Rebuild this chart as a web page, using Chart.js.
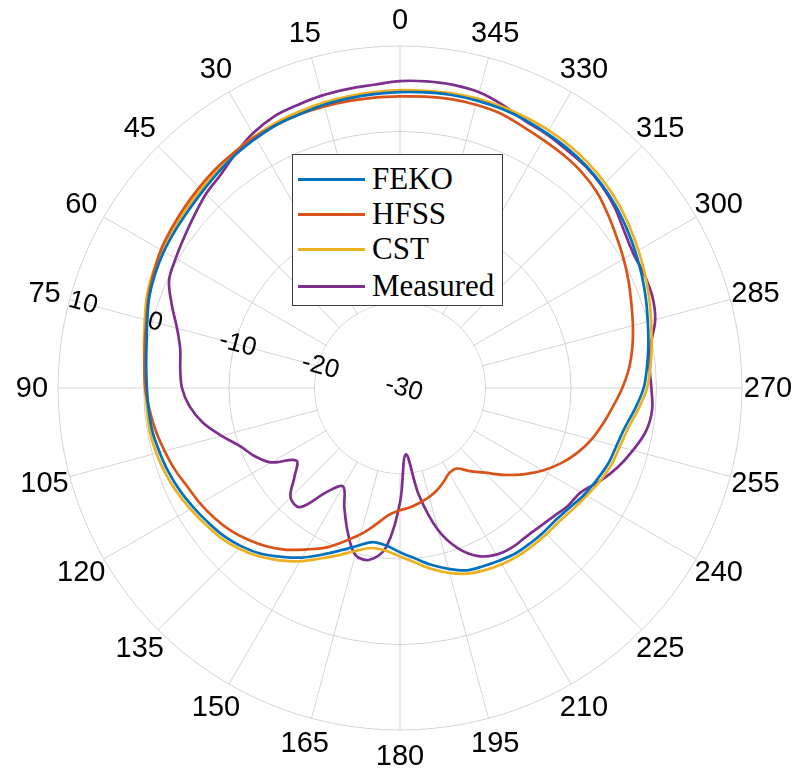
<!DOCTYPE html>
<html>
<head>
<meta charset="utf-8">
<script src="https://cdn.jsdelivr.net/npm/chart.js@4.4.1/dist/chart.umd.min.js"></script>
<style>
  body { margin: 0; background: #fff; }
  #wrap { position: relative; width: 798px; height: 774px; }
  #legend {
    position: absolute; left: 292px; top: 154px; width: 209px; height: 150px;
    border: 1px solid #3c3c3c; background: #fff;
    font-family: "Liberation Serif", "Times New Roman", serif; font-size: 31px; color: #000;
  }
  .row { position: absolute; left: 0; height: 36px; display: flex; align-items: center; white-space: nowrap; }
  .row i { display: inline-block; width: 67px; height: 3px; margin-left: 5px; margin-right: 7px; }
</style>
</head>
<body>
<div id="wrap">
  <canvas id="polar"></canvas>
  <div id="legend"></div>
</div>
<script>
// angle in degrees, counter-clockwise from top, every 5 deg
const angles = Array.from({ length: 72 }, (_, i) => i * 5);
const rTicks = [-30, -20, -10, 0, 10];

// gain in dB at angles[]
const feko = [4.6, 4.5, 4.4, 4.3, 4.1, 4.0, 3.7, 3.4, 3.0, 2.6, 2.3, 2.1,
  1.9, 1.6, 1.2, 0.6, 0.1, -0.2, -0.4, -0.5, -0.6, -0.9, -1.2, -1.6,
  -2.1, -2.6, -3.1, -3.8, -4.7, -5.9, -7.1, -8.5, -9.8, -10.9, -11.7, -11.5,
  -10.8, -10.0, -9.0, -8.1, -7.3, -7.0, -6.7, -6.4, -6.3, -6.2, -6.1, -5.7,
  -5.1, -4.6, -4.1, -3.8, -3.3, -2.4, -1.5, -1.0, -0.5, 0.0, 0.6, 1.2,
  1.8, 2.4, 3.0, 3.5, 3.9, 4.2, 4.4, 4.6, 4.75, 4.8, 4.8, 4.7];

const hfss = [4.1, 4.1, 4.1, 4.1, 4.1, 4.0, 3.9, 3.7, 3.5, 3.2, 2.9, 2.6,
  2.3, 1.8, 1.3, 0.7, 0.3, 0.0, -0.2, -0.6, -1.0, -1.5, -2.0, -2.6,
  -3.0, -3.5, -4.1, -4.9, -5.8, -6.9, -8.2, -9.4, -10.9, -12.3, -13.8, -15.1,
  -15.7, -16.0, -16.4, -16.8, -17.3, -17.9, -18.5, -18.5, -17.3, -16.0, -14.2, -12.4,
  -10.7, -9.2, -7.9, -6.8, -5.9, -5.0, -4.0, -3.1, -2.4, -1.8, -1.2, -0.5,
  0.2, 0.9, 1.7, 2.5, 3.0, 3.3, 3.5, 3.8, 4.2, 4.3, 4.3, 4.2];

const cst = [4.85, 4.75, 4.65, 4.55, 4.4, 4.25, 4.0, 3.7, 3.3, 2.9, 2.6, 2.4,
  2.2, 1.9, 1.5, 0.9, 0.4, 0.0, -0.2, -0.3, -0.3, -0.5, -0.8, -1.2,
  -1.7, -2.2, -2.7, -3.4, -4.3, -5.4, -6.6, -8.0, -9.2, -10.3, -11.0, -10.9,
  -10.3, -9.5, -8.5, -7.6, -6.9, -6.5, -6.2, -6.0, -5.9, -5.8, -5.7, -5.3,
  -4.8, -4.2, -3.7, -3.4, -2.9, -2.0, -1.1, -0.6, -0.1, 0.4, 1.0, 1.6,
  2.2, 2.8, 3.4, 3.9, 4.3, 4.6, 4.8, 4.9, 5.0, 5.05, 5.0, 4.9];

const measured = [5.9, 5.6, 5.5, 5.4, 5.2, 5.0, 4.4, 3.5, 2.6, 2.1, 1.4, 0.8,
  0.3, -0.2, -1.6, -3.0, -3.9, -4.2, -4.5, -5.3, -6.6, -8.4, -10.1, -11.2,
  -12.6, -15.2, -13.9, -11.9, -11.8, -15.2, -16.7, -14.6, -12.1, -9.8, -9.6, -11.3,
  -16.6, -22.2, -17.3, -12.8, -10.0, -8.3, -7.5, -7.2, -7.2, -7.0, -6.6, -6.0,
  -5.6, -4.2, -2.9, -1.8, -0.8, -0.4, -0.6, -0.7, -0.2, 0.9, 1.4, 1.5,
  1.5, 2.0, 2.8, 3.4, 3.8, 4.0, 4.3, 4.5, 5.2, 5.8, 6.0, 6.0];

const seriesNames = ['FEKO', 'HFSS', 'CST', 'Measured'];
const seriesColors = ['#0072BD', '#D95319', '#EDB120', '#7E2F8E'];
const seriesData = [feko, hfss, cst, measured];

// radar goes clockwise, the plot goes counter-clockwise
const n = angles.length;
const order = angles.map((_, i) => (n - i) % n);
const labels = order.map(k => angles[k]);

const FONT = '"Liberation Sans", Arial, sans-serif';

const polarExtras = {
  id: 'polarExtras',
  beforeDatasetsDraw(chart) {
    const s = chart.scales.r, ctx = chart.ctx;
    ctx.save();
    // hollow centre, grid only from -20 outward
    ctx.beginPath();
    ctx.arc(s.xCenter, s.yCenter, s.getDistanceFromCenterForValue(-20) - 0.6, 0, Math.PI * 2);
    ctx.fillStyle = '#fff';
    ctx.fill();
    // angle labels every 15 deg
    ctx.font = '29px ' + FONT;
    ctx.fillStyle = '#000';
    ctx.textAlign = 'center';
    ctx.textBaseline = 'middle';
    labels.forEach((l, i) => {
      if (i % 3 !== 0) return;
      const p = s.getPointPosition(i, s.drawingArea + 26);
      ctx.fillText(String(l), p.x, p.y + 1);
    });
    ctx.restore();
  },
  afterDatasetsDraw(chart) {
    const s = chart.scales.r, ctx = chart.ctx;
    const idx = order.indexOf(angles.indexOf(75));
    ctx.save();
    ctx.font = '26px ' + FONT;
    ctx.fillStyle = '#000';
    ctx.textAlign = 'center';
    ctx.textBaseline = 'middle';
    rTicks.forEach(v => {
      let d = s.getDistanceFromCenterForValue(v) - 3;
      if (v === rTicks[rTicks.length - 1]) d -= 11;
      if (v === rTicks[0]) d = -4;
      const p = s.getPointPosition(idx, d);
      ctx.save();
      ctx.translate(p.x, p.y);
      ctx.rotate(15 * Math.PI / 180);
      ctx.fillText(String(v), 0, 0);
      ctx.restore();
    });
    ctx.restore();
  }
};

new Chart(document.getElementById('polar'), {
  type: 'radar',
  data: {
    labels: labels,
    datasets: seriesData.map((d, j) => ({
      label: seriesNames[j],
      data: order.map(k => d[k]),
      borderColor: seriesColors[j],
      backgroundColor: seriesColors[j],
      borderWidth: 2.7,
      fill: false,
      pointRadius: 0,
      tension: 0.35
    }))
  },
  options: {
    responsive: true,
    maintainAspectRatio: false,
    animation: false,
    layout: { padding: { top: 46, bottom: 44, left: 58, right: 56 } },
    plugins: { legend: { display: false }, tooltip: { enabled: false } },
    scales: {
      r: {
        min: -30,
        max: 10,
        ticks: { display: false, stepSize: 10 },
        grid: { circular: true, color: '#d4d4d4', lineWidth: 1 },
        angleLines: { color: '#d4d4d4', lineWidth: c => (c.index % 3 === 0 ? 1 : 0) },
        pointLabels: { display: false }
      }
    }
  },
  plugins: [polarExtras]
});

// legend box
const legend = document.getElementById('legend');
const rowCenters = [24, 59, 94, 131];
seriesNames.forEach((name, j) => {
  const row = document.createElement('div');
  row.className = 'row';
  row.style.top = (rowCenters[j] - 18) + 'px';
  const sw = document.createElement('i');
  sw.style.background = seriesColors[j];
  row.appendChild(sw);
  row.appendChild(document.createTextNode(name));
  legend.appendChild(row);
});
</script>
</body>
</html>
